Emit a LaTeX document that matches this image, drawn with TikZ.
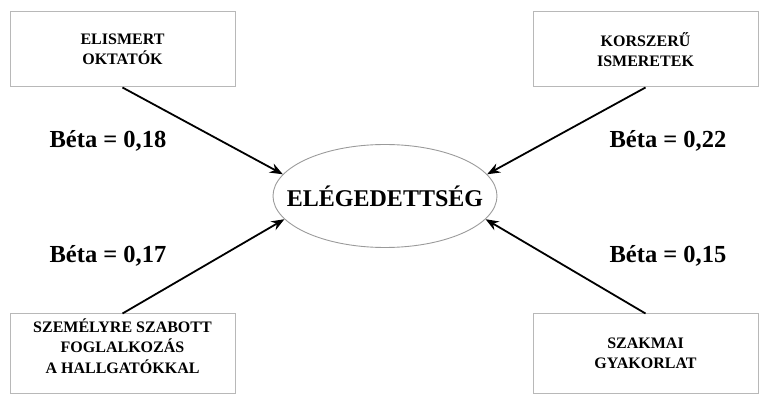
\documentclass[tikz,border=0pt]{standalone}
\usepackage{fontspec}
\setmainfont{Liberation Serif}
\usetikzlibrary{shapes.geometric,arrows.meta}
\definecolor{boxgray}{HTML}{B8B8B8}
\definecolor{ellgray}{HTML}{9A9A9A}
\begin{document}
\begin{tikzpicture}[x=1pt,y=-1pt,
  factorbox/.style={draw=boxgray,line width=1pt,minimum width=225pt,inner sep=0pt,
    align=center,font=\bfseries\fontsize{16}{20}\selectfont},
  boxtext/.style={align=center,inner sep=0pt,font=\bfseries\fontsize{16}{20.5}\selectfont},
  betalabel/.style={font=\bfseries\fontsize{24.5}{28}\selectfont,inner sep=0pt},
  effect/.style={-{Stealth[length=13pt,width=10pt]},line width=1.8pt,black}]
\useasboundingbox (0,0) rectangle (763,395);
\node[draw=ellgray,line width=0.9pt,ellipse,minimum width=224pt,minimum height=103pt,inner sep=0pt,
  label={[font=\bfseries\fontsize{24}{28}\selectfont,inner sep=0pt]center:ELÉGEDETTSÉG}] (e) at (385,196) {};
\node[factorbox,minimum height=75pt] (b1) at (122.5,49.5) {ELISMERT\\OKTATÓK};
\node[factorbox,minimum height=75pt] (b2) at (645.5,49.5) {KORSZERŰ\\ISMERETEK};
\node[factorbox,minimum height=79pt] (b3) at (122.5,353.5) {};
\node[boxtext] (t3) at (122.5,346) {SZEMÉLYRE SZABOTT\\FOGLALKOZÁS\\A HALLGATÓKKAL};
\node[factorbox,minimum height=79pt] (b4) at (645.5,353.5) {SZAKMAI\\GYAKORLAT};
\draw[effect] (b1.south) -- (e.168);
\draw[effect] (b2.south) -- (e.12);
\draw[effect] (b3.north) -- (e.193);
\draw[effect] (b4.north) -- (e.347);
\node[betalabel] (l1) at (108,141) {Béta = 0,18};
\node[betalabel] (l2) at (668,141) {Béta = 0,22};
\node[betalabel] (l3) at (108,256) {Béta = 0,17};
\node[betalabel] (l4) at (668,256) {Béta = 0,15};
\end{tikzpicture}
\end{document}
